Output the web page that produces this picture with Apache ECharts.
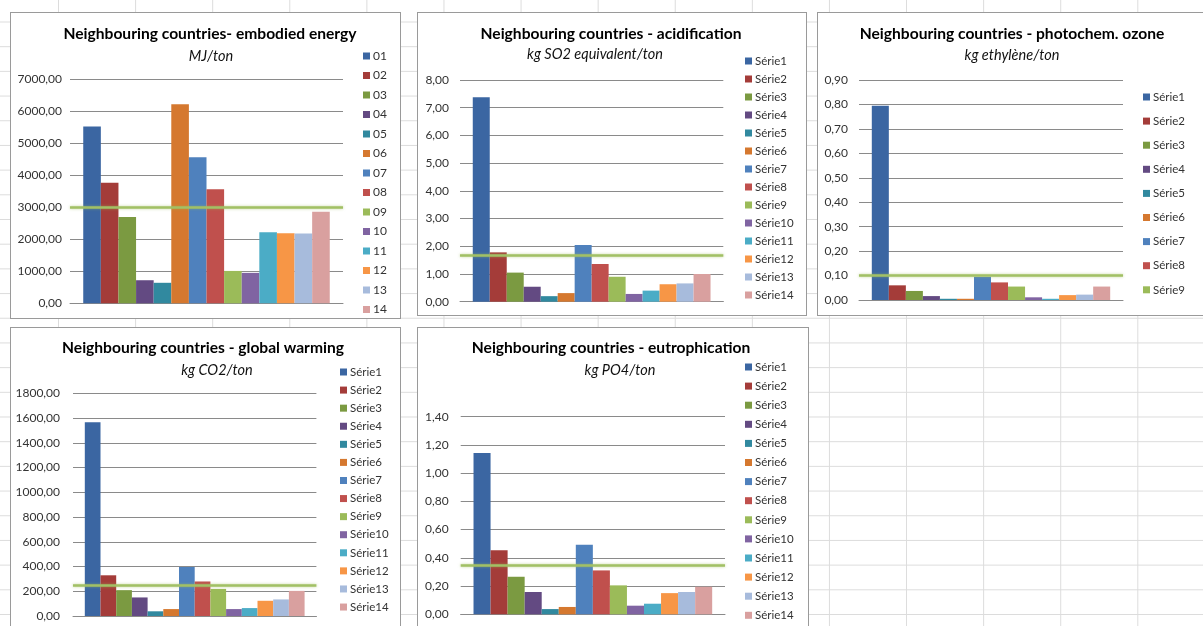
<!DOCTYPE html>
<html>
<head>
<meta charset="utf-8">
<script src="https://cdn.jsdelivr.net/npm/echarts@6/dist/echarts.min.js"></script>
<style>
  html, body { margin: 0; padding: 0; }
  body {
    width: 1203px; height: 626px; overflow: hidden; position: relative;
    background-color: #fff;
    background-image:
      linear-gradient(to right, #dcdcdc 1px, transparent 1px),
      linear-gradient(to bottom, #dcdcdc 1px, transparent 1px);
    background-size: 77.1px 626px, 1203px 24.7px;
    background-position: 58px 0, 0 21.5px;
  }
  .panel {
    position: absolute; background: #fff; border: 1px solid #9a9a9a;
    box-sizing: border-box; overflow: hidden;
  }
  .panel > div { position: absolute; left: 0; top: 0; right: 0; bottom: 0; }
</style>
</head>
<body>
<div class="panel" id="p1" style="left:10px;top:12px;width:391px;height:307px"><div></div></div>
<div class="panel" id="p2" style="left:417px;top:12px;width:390px;height:304px"><div></div></div>
<div class="panel" id="p3" style="left:817px;top:12px;width:400px;height:304px"><div></div></div>
<div class="panel" id="p4" style="left:10px;top:327px;width:391px;height:320px"><div></div></div>
<div class="panel" id="p5" style="left:417px;top:327px;width:392px;height:320px"><div></div></div>
<script>
// Series names
const energyNames = ['01','02','03','04','05','06','07','08','09','10','11','12','13','14'];
const serieNames = ['Série1','Série2','Série3','Série4','Série5','Série6','Série7',
                    'Série8','Série9','Série10','Série11','Série12','Série13','Série14'];

// Values per indicator (one bar per series)
const energyValues = [5520, 3760, 2690, 720, 640, 6210, 4560, 3560, 1010, 950, 2220, 2190, 2180, 2860];
const acidValues = [7.38, 1.78, 1.05, 0.54, 0.20, 0.31, 2.05, 1.36, 0.90, 0.28, 0.40, 0.63, 0.66, 1.00];
const ozoneValues = [0.795, 0.060, 0.037, 0.016, 0.005, 0.005, 0.095, 0.072, 0.055, 0.011, 0.005, 0.020, 0.022, 0.055];
const warmingValues = [1565, 329, 209, 150, 38, 56, 396, 279, 219, 56, 64, 123, 134, 203];
const eutroValues = [1.142, 0.454, 0.266, 0.158, 0.037, 0.052, 0.492, 0.311, 0.205, 0.061, 0.075, 0.150, 0.158, 0.195];

// Reference level drawn as a horizontal line on each chart
const energyRef = 2990;
const acidRef = 1.66;
const ozoneRef = 0.10;
const warmingRef = 251;
const eutroRef = 0.348;

// Value axis ranges: [min, max, interval]
const energyAxis = [0, 7000, 1000];
const acidAxis = [0, 8, 1];
const ozoneAxis = [0, 0.9, 0.1];
const warmingAxis = [0, 1800, 200];
const eutroAxis = [0, 1.4, 0.2];

// Titles and units
const titles = [
  'Neighbouring countries- embodied energy',
  'Neighbouring countries - acidification',
  'Neighbouring countries - photochem. ozone',
  'Neighbouring countries - global warming',
  'Neighbouring countries - eutrophication'
];
const units = ['MJ/ton', 'kg SO2 equivalent/ton', 'kg ethylène/ton', 'kg CO2/ton', 'kg PO4/ton'];

const palette = ['#3b66a2', '#a43c39', '#7b9a41', '#634a82', '#31899f', '#d5782f',
                 '#4f81bd', '#c0504d', '#9bbb59', '#8064a2', '#4bacc6', '#f79646',
                 '#a7bbdc', '#d9a09f'];

const FONT = 'Lato, "Open Sans", sans-serif';

function fmt(v) { return v.toFixed(2).replace('.', ','); }

function buildOption(cfg) {
  const L = cfg.layout;
  const series = cfg.names.map((name, i) => ({
    name: name,
    type: 'bar',
    data: [cfg.values[i]],
    barGap: '0%',
    barCategoryGap: '9.7%',
    itemStyle: { color: palette[i] },
    silent: true
  }));
  series[0].markLine = {
    silent: true,
    symbol: ['none', 'none'],
    label: { show: false },
    lineStyle: {
      type: 'solid', width: 2.5, color: '#a2c065',
      shadowBlur: 3, shadowColor: 'rgba(155,187,89,0.6)'
    },
    data: [{ yAxis: cfg.ref }]
  };
  return {
    animation: false,
    textStyle: { fontFamily: FONT },
    graphic: [
      { type: 'text', x: L.titleX, y: L.titleY,
        style: { text: cfg.title, font: 'bold 15.6px ' + FONT, fill: '#000',
                 align: 'center', verticalAlign: 'middle',
                 textAlign: 'center', textVerticalAlign: 'middle' } },
      { type: 'text', x: L.unitX, y: L.unitY,
        style: { text: cfg.unit, font: 'italic 14.5px ' + FONT, fill: '#111',
                 align: 'center', verticalAlign: 'middle',
                 textAlign: 'center', textVerticalAlign: 'middle' } }
    ],
    legend: {
      orient: 'vertical',
      left: L.legX, top: L.legY - 7,
      padding: 0,
      itemWidth: 7, itemHeight: 7,
      itemGap: L.legGap - 14,
      icon: 'rect',
      data: cfg.names.slice(0, cfg.legendCount || cfg.names.length),
      textStyle: { fontFamily: FONT, fontSize: L.legFont, color: '#333', lineHeight: 14, padding: [0, 0, 0, -2] },
      selectedMode: false
    },
    grid: { left: L.left, top: L.top, width: L.width, height: L.height, containLabel: false },
    xAxis: {
      type: 'category', data: [''],
      axisLine: { show: true, lineStyle: { color: '#8a8a8a', width: 1 } },
      axisTick: { show: false },
      axisLabel: { show: false },
      splitLine: { show: false }
    },
    yAxis: {
      type: 'value',
      min: cfg.axis[0], max: cfg.axis[1], interval: cfg.axis[2],
      axisLine: { show: false },
      axisTick: { show: false },
      axisLabel: { formatter: fmt, color: '#333', fontSize: 12, fontFamily: FONT, margin: L.margin },
      splitLine: { lineStyle: { color: '#8a8a8a', width: 1 } }
    },
    series: series
  };
}

const charts = [
  { id: 'p1', title: titles[0], unit: units[0], names: energyNames, values: energyValues,
    ref: energyRef, axis: energyAxis,
    layout: { left: 59, top: 66, width: 273, height: 224.3, margin: 8,
              titleX: 199, titleY: 21, unitX: 200, unitY: 43,
              legX: 352, legY: 43, legGap: 19.5, legFont: 12 } },
  { id: 'p2', title: titles[1], unit: units[1], names: serieNames, values: acidValues,
    ref: acidRef, axis: acidAxis,
    layout: { left: 42, top: 67, width: 263.3, height: 221.7, margin: 11,
              titleX: 193, titleY: 21, unitX: 177, unitY: 41,
              legX: 327, legY: 48, legGap: 18, legFont: 11.5 } },
  { id: 'p3', title: titles[2], unit: units[2], names: serieNames, values: ozoneValues,
    ref: ozoneRef, axis: ozoneAxis, legendCount: 9,
    layout: { left: 41, top: 67, width: 264, height: 220, margin: 11,
              titleX: 194, titleY: 21, unitX: 194, unitY: 42,
              legX: 325, legY: 84, legGap: 24.1, legFont: 11.5 } },
  { id: 'p4', title: titles[3], unit: units[3], names: serieNames, values: warmingValues,
    ref: warmingRef, axis: warmingAxis,
    layout: { left: 62, top: 65.3, width: 243.4, height: 222.7, margin: 13,
              titleX: 192, titleY: 20, unitX: 206, unitY: 42,
              legX: 329, legY: 44, legGap: 18.08, legFont: 11.5 } },
  { id: 'p5', title: titles[4], unit: units[4], names: serieNames, values: eutroValues,
    ref: eutroRef, axis: eutroAxis,
    layout: { left: 42.7, top: 88.7, width: 264.3, height: 197.6, margin: 12,
              titleX: 193, titleY: 20, unitX: 202, unitY: 42,
              legX: 327, legY: 39, legGap: 19.1, legFont: 11.5 } }
];

charts.forEach(cfg => {
  const el = document.querySelector('#' + cfg.id + ' > div');
  const chart = echarts.init(el, null, { renderer: 'canvas' });
  chart.setOption(buildOption(cfg));
});
</script>
</body>
</html>
